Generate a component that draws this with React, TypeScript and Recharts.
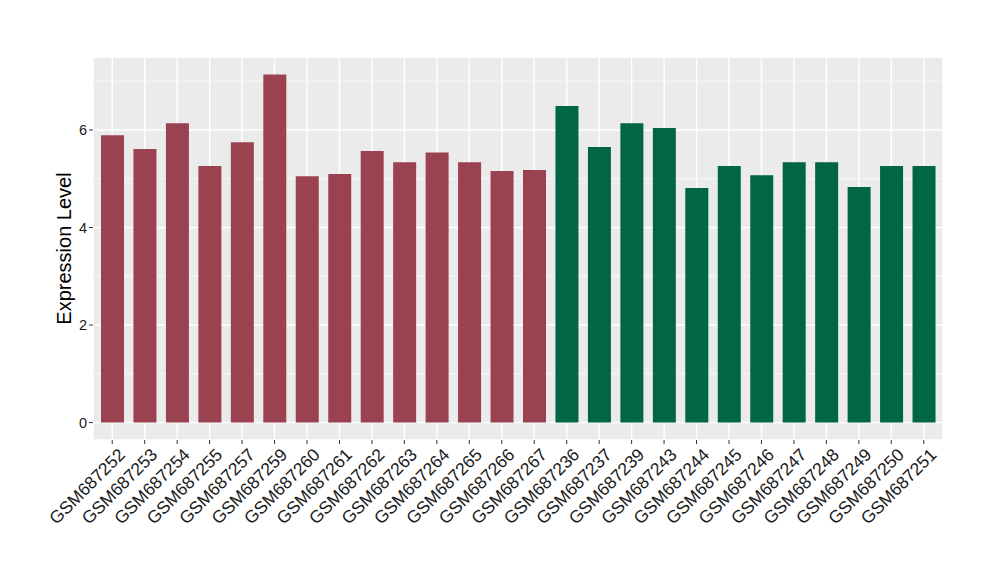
import React from 'react';
import { BarChart, Bar, XAxis, YAxis, CartesianGrid, Cell } from 'recharts';

const samples = [
  'GSM687252', 'GSM687253', 'GSM687254', 'GSM687255', 'GSM687257', 'GSM687259', 'GSM687260',
  'GSM687261', 'GSM687262', 'GSM687263', 'GSM687264', 'GSM687265', 'GSM687266', 'GSM687267',
  'GSM687236', 'GSM687237', 'GSM687239', 'GSM687243', 'GSM687244', 'GSM687245', 'GSM687246',
  'GSM687247', 'GSM687248', 'GSM687249', 'GSM687250', 'GSM687251',
];

const values = [
  5.89, 5.61, 6.14, 5.26, 5.75, 7.14, 5.05, 5.1, 5.57, 5.34, 5.54, 5.34, 5.16, 5.18,
  6.49, 5.65, 6.14, 6.04, 4.81, 5.26, 5.07, 5.34, 5.34, 4.83, 5.26, 5.26,
];

const groups = [
  'A', 'A', 'A', 'A', 'A', 'A', 'A', 'A', 'A', 'A', 'A', 'A', 'A', 'A',
  'B', 'B', 'B', 'B', 'B', 'B', 'B', 'B', 'B', 'B', 'B', 'B',
];

const groupColors: Record<string, string> = { A: '#9B4251', B: '#006644' };

const yTicks = [0, 2, 4, 6];
const yMinorTicks = [1, 3, 5, 7];

const data = samples.map((name, i) => ({ name, value: values[i], group: groups[i] }));

const XTick = (props: any) => {
  const { x, y, payload } = props;
  return (
    <text
      transform={`translate(${x + 5},${y + 1}) rotate(-45)`}
      textAnchor="end"
      dy="0.71em"
      fontSize={17.5}
      fill="#1A1A1A"
      fontFamily="Liberation Sans, Arial, sans-serif"
    >
      {payload.value}
    </text>
  );
};

const App: React.FC = () => {
  return (
    <div style={{ position: 'absolute', left: 0, top: 0, width: 1000, height: 580, background: '#fff' }}>
      <BarChart
        width={1000}
        height={580}
        data={data}
        margin={{ top: 57, right: 57, bottom: 0, left: 0 }}
        barCategoryGap={0}
        style={{ fontFamily: 'Liberation Sans, Arial, sans-serif' }}
      >
        <CartesianGrid stroke="#FFFFFF" strokeWidth={1.4} fill="#EBEBEB" />
        <CartesianGrid yAxisId="minor" stroke="#FFFFFF" strokeWidth={0.7} vertical={false} />
        <XAxis
          dataKey="name"
          interval={0}
          padding={{ left: 3, right: 3 }}
          axisLine={false}
          tickSize={4}
          tickLine={{ stroke: '#333333' }}
          tick={<XTick />}
          height={140}
        />
        <YAxis
          domain={[-0.357, 7.497]}
          allowDataOverflow
          ticks={yTicks}
          width={93}
          axisLine={false}
          tickSize={4}
          tickMargin={2}
          tickLine={{ stroke: '#333333' }}
          tick={{ fill: '#1A1A1A', fontSize: 14.5 }}
          label={{
            value: 'Expression Level',
            angle: -90,
            position: 'insideLeft',
            offset: 64,
            style: { textAnchor: 'middle', fontSize: 20, fill: '#000000' },
          }}
        />
        <YAxis yAxisId="minor" hide domain={[-0.357, 7.497]} allowDataOverflow ticks={yMinorTicks} />
        <Bar dataKey="value" barSize={23} isAnimationActive={false}>
          {data.map((d, i) => (
            <Cell key={`cell-${i}`} fill={groupColors[d.group]} />
          ))}
        </Bar>
      </BarChart>
    </div>
  );
};

export default App;
